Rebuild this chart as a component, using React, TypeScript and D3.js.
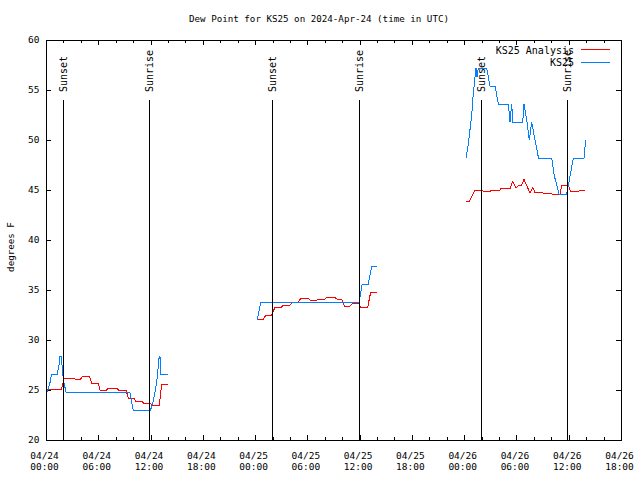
import React from 'react';
import * as d3 from 'd3';

// ---------- data ----------
const titleText = 'Dew Point for KS25 on 2024-Apr-24 (time in UTC)';
const yLabel = 'degrees F';
const yTicks = [20, 25, 30, 35, 40, 45, 50, 55, 60];
const xDomainHours = [0, 66];
const seriesNames = ['KS25 Analysis', 'KS25'];
const seriesColors = ['#ff0000', '#0080ff'];

const eventHours = [1.92, 11.86, 25.91, 35.93, 49.9, 59.84];
const eventLabels = ['Sunset', 'Sunrise', 'Sunset', 'Sunrise', 'Sunset', 'Sunrise'];

// KS25 Analysis (hours since 2024-04-24 00:00 UTC, dew point F)
const analysisHours1 = [0.08, 1.8, 2.07, 3.14, 3.33, 3.98, 4.21, 4.97, 5.24, 6.0, 6.2, 6.96, 7.16, 8.11, 8.3, 9.18, 9.45, 10.1, 10.3, 10.98, 11.17, 11.94, 12.13, 13.0, 13.15, 13.28, 13.97];
const analysisDew1 = [25.1, 25.1, 26.2, 26.2, 26.1, 26.1, 26.4, 26.4, 25.7, 25.7, 25.0, 25.0, 25.2, 25.2, 25.0, 25.0, 24.2, 24.2, 23.9, 23.9, 23.7, 23.7, 23.5, 23.5, 24.6, 25.6, 25.6];
const analysisHours2 = [24.25, 24.94, 25.25, 25.91, 26.29, 27.05, 27.24, 28.01, 28.32, 28.96, 29.27, 30.04, 30.3, 31.07, 31.26, 32.02, 32.29, 33.09, 33.37, 33.94, 34.24, 34.89, 35.2, 35.85, 36.12, 36.93, 37.27, 37.96];
const analysisDew2 = [32.1, 32.1, 32.5, 32.5, 33.3, 33.3, 33.5, 33.5, 33.8, 33.8, 34.2, 34.2, 34.0, 34.0, 34.1, 34.1, 34.3, 34.3, 34.1, 34.1, 33.4, 33.4, 33.7, 33.7, 33.3, 33.3, 34.8, 34.8];
const analysisHours3 = [48.21, 48.59, 48.9, 49.24, 50.01, 50.2, 50.96, 51.16, 52.11, 52.23, 53.26, 53.57, 53.95, 54.21, 54.6, 54.87, 55.25, 55.56, 55.87, 56.13, 57.85, 58.05, 59.0, 59.19, 59.95, 60.22, 61.09, 61.29, 61.87];
const analysisDew3 = [43.9, 43.9, 44.4, 44.95, 45.0, 44.85, 44.85, 45.0, 45.0, 45.15, 45.15, 45.85, 45.2, 45.4, 45.5, 46.05, 45.3, 44.7, 45.25, 44.75, 44.65, 44.6, 44.6, 45.5, 45.5, 44.85, 44.85, 44.95, 44.95];

// KS25 observations
const obsHours1 = [0.15, 0.45, 0.65, 1.3, 1.49, 1.61, 1.72, 1.84, 1.93, 2.07, 2.3, 9.62, 9.82, 10.0, 12.0, 12.32, 12.7, 12.9, 13.0, 13.08, 13.18, 13.97];
const obsDew1 = [24.8, 25.7, 26.6, 26.6, 27.5, 28.4, 28.4, 27.5, 26.6, 25.7, 24.8, 24.8, 23.9, 23.0, 23.0, 23.9, 25.7, 27.5, 28.4, 28.4, 26.6, 26.6];
const obsHours2 = [24.25, 24.65, 35.93, 36.3, 36.98, 37.39, 37.96];
const obsDew2 = [32.0, 33.8, 33.8, 35.6, 35.6, 37.4, 37.4];
const obsHours3 = [48.21, 48.48, 48.86, 49.05, 49.36, 49.47, 49.62, 50.58, 50.96, 51.54, 51.92, 53.07, 53.26, 53.45, 53.6, 54.72, 54.87, 55.21, 55.48, 55.75, 56.13, 56.53, 58.05, 58.35, 58.89, 59.77, 60.15, 60.53, 61.75, 61.95];
const obsDew3 = [48.2, 49.6, 52.5, 54.7, 57.2, 56.3, 57.2, 57.2, 55.4, 55.4, 53.6, 53.6, 51.8, 53.6, 51.8, 51.8, 53.6, 51.8, 50.0, 51.8, 50.0, 48.2, 48.2, 46.4, 44.6, 44.6, 46.4, 48.2, 48.2, 50.0];

// ---------- layout ----------
const W = 640;
const H = 480;
const L = 46;
const R = 621;
const T = 40;
const B = 440;
const FONT = '"DejaVu Sans Mono", monospace';

const START = Date.UTC(2024, 3, 24);
const toDate = (h: number) => new Date(START + h * 3600e3);

const zip = (hs: number[], vs: number[]) => hs.map((h, i) => ({ t: toDate(h), v: vs[i] }));

const seriesSegments = [
  [zip(analysisHours1, analysisDew1), zip(analysisHours2, analysisDew2), zip(analysisHours3, analysisDew3)],
  [zip(obsHours1, obsDew1), zip(obsHours2, obsDew2), zip(obsHours3, obsDew3)],
];

export default function App() {
  const x = d3.scaleUtc().domain(xDomainHours.map(toDate)).range([L, R]);
  const y = d3.scaleLinear().domain([yTicks[0], yTicks[yTicks.length - 1]]).range([B, T]);
  const line = d3
    .line<{ t: Date; v: number }>()
    .x((d) => x(d.t))
    .y((d) => y(d.v));

  const majorTicks = x.ticks(d3.utcHour.every(6)!);
  const minorTicks = x.ticks(d3.utcHour.every(2)!).filter((d) => d.getUTCHours() % 6 !== 0);
  const fmtDate = d3.utcFormat('%m/%d');
  const fmtTime = d3.utcFormat('%H:%M');

  const px = (v: number) => Math.round(v) + 0.5;

  return (
    <svg
      width={W}
      height={H}
      style={{ position: 'absolute', left: 0, top: 0, background: '#fff' }}
      fontFamily={FONT}
      fontSize={10}
    >
      <rect x={0} y={0} width={W} height={H} fill="#fff" />
      {/* title */}
      <text x={319} y={19} dy="0.35em" textAnchor="middle" fontSize={9.2}>
        {titleText}
      </text>
      {/* y label */}
      <text transform={`translate(14,247) rotate(-90)`} textAnchor="middle" fontSize={9.2}>
        {yLabel}
      </text>

      {/* y ticks */}
      {yTicks.map((v) => (
        <g key={'y' + v}>
          <line x1={L} x2={L + 5} y1={px(y(v))} y2={px(y(v))} stroke="#000" shapeRendering="crispEdges" />
          <line x1={R - 5} x2={R} y1={px(y(v))} y2={px(y(v))} stroke="#000" shapeRendering="crispEdges" />
          <text x={39.5} y={y(v)} dy="0.35em" textAnchor="end" fontSize={9.5}>
            {v}
          </text>
        </g>
      ))}

      {/* x ticks */}
      {majorTicks.map((d) => (
        <g key={'xm' + d.getTime()}>
          <line x1={px(x(d))} x2={px(x(d))} y1={B} y2={B - 5} stroke="#000" shapeRendering="crispEdges" />
          <line x1={px(x(d))} x2={px(x(d))} y1={T} y2={T + 5} stroke="#000" shapeRendering="crispEdges" />
          <text x={x(d) - 1.5} y={455.5} dy="0.35em" textAnchor="middle" fontSize={9.5}>
            {fmtDate(d)}
          </text>
          <text x={x(d) - 1.5} y={467} dy="0.35em" textAnchor="middle" fontSize={9.5}>
            {fmtTime(d)}
          </text>
        </g>
      ))}
      {minorTicks.map((d) => (
        <g key={'xn' + d.getTime()}>
          <line x1={px(x(d))} x2={px(x(d))} y1={B} y2={B - 3} stroke="#000" shapeRendering="crispEdges" />
          <line x1={px(x(d))} x2={px(x(d))} y1={T} y2={T + 3} stroke="#000" shapeRendering="crispEdges" />
        </g>
      ))}

      {/* data */}
      {seriesSegments.map((segs, si) =>
        segs.map((seg, k) => (
          <path
            key={si + '-' + k}
            d={line(seg) || ''}
            fill="none"
            stroke={seriesColors[si]}
            strokeWidth={1}
            shapeRendering="crispEdges"
          />
        ))
      )}

      {/* sunset / sunrise markers */}
      {eventHours.map((h, i) => {
        const ex = px(x(toDate(h)));
        return (
          <g key={'e' + i}>
            <line x1={ex} x2={ex} y1={B} y2={100} stroke="#000" shapeRendering="crispEdges" />
            <text transform={`translate(${ex + 3.5},92) rotate(-90)`} textAnchor="start">
              {eventLabels[i]}
            </text>
          </g>
        );
      })}

      {/* legend */}
      {seriesNames.map((name, i) => (
        <g key={'lg' + i}>
          <text x={574} y={50 + i * 12.7} dy="0.35em" textAnchor="end">
            {name}
          </text>
          <line
            x1={581}
            x2={610}
            y1={px(49 + i * 13)}
            y2={px(49 + i * 13)}
            stroke={seriesColors[i]}
            shapeRendering="crispEdges"
          />
        </g>
      ))}

      {/* border */}
      <rect x={L + 0.5} y={T + 0.5} width={R - L} height={B - T} fill="none" stroke="#000" shapeRendering="crispEdges" />
    </svg>
  );
}
